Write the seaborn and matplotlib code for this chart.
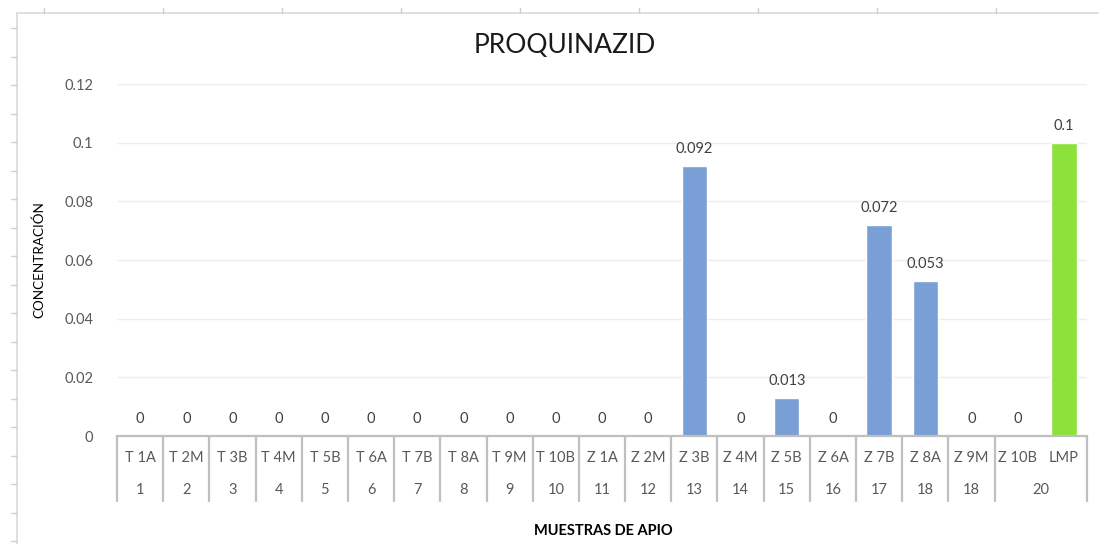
import matplotlib
matplotlib.use("Agg")
import matplotlib.pyplot as plt
import matplotlib.transforms as mtransforms
from matplotlib.lines import Line2D
import numpy as np
import pandas as pd
import seaborn as sns

# Datos del gráfico
muestras = ["T 1A", "T 2M", "T 3B", "T 4M", "T 5B", "T 6A", "T 7B", "T 8A", "T 9M", "T 10B",
            "Z 1A", "Z 2M", "Z 3B", "Z 4M", "Z 5B", "Z 6A", "Z 7B", "Z 8A", "Z 9M", "Z 10B", "LMP"]
concentracion = [0, 0, 0, 0, 0, 0, 0, 0, 0, 0,
                 0, 0, 0.092, 0, 0.013, 0, 0.072, 0.053, 0, 0, 0.1]
# Segundo nivel de etiquetas (número de muestra) y cuántas categorías abarca cada uno
grupo_labels = ["1", "2", "3", "4", "5", "6", "7", "8", "9", "10",
                "11", "12", "13", "14", "15", "16", "17", "18", "18", "20"]
grupo_n = [1] * 19 + [2]
y_ticks = [0, 0.02, 0.04, 0.06, 0.08, 0.1, 0.12]

azul = "#7A9ED6"
verde = "#8CE23B"
colores = {m: (verde if m == "LMP" else azul) for m in muestras}

df = pd.DataFrame({"muestra": muestras, "valor": concentracion})

sns.set_theme(style="white")
plt.rcParams["font.family"] = ["Lato", "DejaVu Sans"]

fig = plt.figure(figsize=(10.99, 5.44), dpi=100)
ax = fig.add_axes([117 / 1099, 1 - 436 / 544, 970 / 1099, 352 / 544])

sns.barplot(data=df, x="muestra", y="valor", hue="muestra", order=muestras,
            palette=colores, width=0.55, legend=False, saturation=1, ax=ax)

# Etiquetas de datos
for cont in ax.containers:
    ax.bar_label(cont, labels=[f"{v:g}" for v in cont.datavalues],
                 padding=7, fontsize=10.5, color="#404040")

ax.set_xlim(-0.5, len(muestras) - 0.5)
ax.set_ylim(0, 0.12)
ax.set_yticks(y_ticks)
ax.set_yticklabels([f"{t:g}" for t in y_ticks], fontsize=10.5, color="#595959")
ax.tick_params(axis="y", length=0, pad=17)
ax.set_xticks([])
ax.yaxis.grid(True, color="#EDEDED", linewidth=1)
ax.set_axisbelow(True)
for s in ["left", "right", "top"]:
    ax.spines[s].set_visible(False)
ax.spines["bottom"].set_color("#BFBFBF")
ax.spines["bottom"].set_linewidth(1.6)

# Eje de categorías con dos niveles
trans = mtransforms.blended_transform_factory(ax.transData, ax.transAxes)
for i, m in enumerate(muestras):
    ax.text(i, -0.062, m, transform=trans, ha="center", va="center",
            fontsize=10.5, color="#595959")
bordes = np.concatenate([[0], np.cumsum(grupo_n)]) - 0.5
for lab, a, b in zip(grupo_labels, bordes[:-1], bordes[1:]):
    ax.text((a + b) / 2, -0.153, lab, transform=trans, ha="center", va="center",
            fontsize=10.5, color="#595959")
for b in bordes:
    ax.plot([b, b], [0, -0.185], transform=trans, color="#BFBFBF",
            linewidth=1.6, clip_on=False)

ax.set_xlabel("MUESTRAS DE APIO", fontsize=10.5, fontweight="bold", color="#000000")
ax.xaxis.set_label_coords(0.501, -0.25)
ax.set_ylabel("CONCENTRACIÓN", fontsize=9.7, color="#000000")
ax.yaxis.set_label_coords(-0.074, 0.5)

fig.text(0.514, 0.917, "PROQUINAZID", ha="center", va="center",
         fontsize=19, color="#1A1A1A")

# Borde del área del gráfico y rejilla de la hoja de cálculo
fig.add_artist(Line2D([17 / 1099, 17 / 1099], [0, 1 - 13 / 544], color="#D9D9D9", lw=1.2))
fig.add_artist(Line2D([17 / 1099, 1], [1 - 13 / 544, 1 - 13 / 544], color="#D9D9D9", lw=1.2))
for yy in np.arange(28, 544, 28.5):
    fig.add_artist(Line2D([11 / 1099, 17 / 1099], [1 - yy / 544, 1 - yy / 544],
                          color="#D0D0D0", lw=1))
for xx in np.arange(44, 1099, 119):
    fig.add_artist(Line2D([xx / 1099, xx / 1099], [1 - 8 / 544, 1 - 13 / 544],
                          color="#D0D0D0", lw=1))

fig.savefig("out.png", dpi=100)
